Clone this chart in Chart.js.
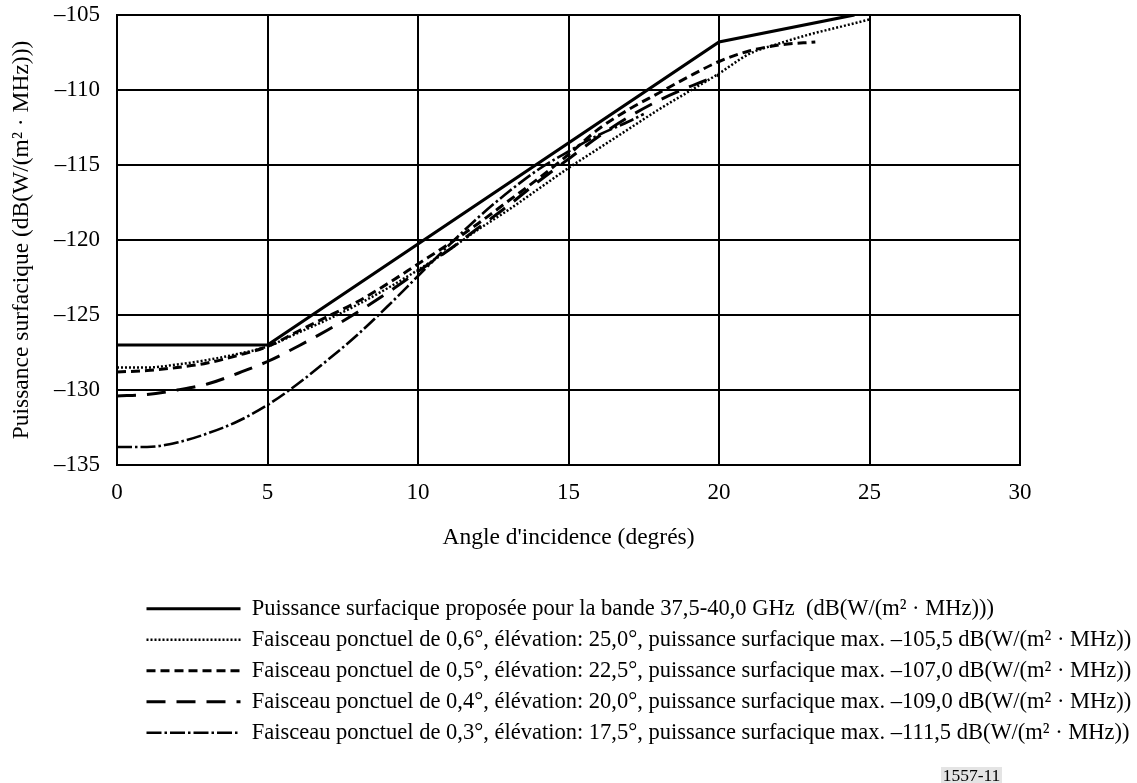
<!DOCTYPE html>
<html>
<head>
<meta charset="utf-8">
<script src="https://cdn.jsdelivr.net/npm/chart.js@4/dist/chart.umd.min.js"></script>
<style>
  html, body { margin: 0; padding: 0; background: #fff; }
  #wrap { width: 1137px; height: 783px; }
</style>
</head>
<body>
<div id="wrap"><canvas id="myChart" width="1137" height="783"></canvas></div>
<script>
// Angle d'incidence (degrés) / puissance surfacique dB(W/(m2 · MHz))
const anglesProposed = [0, 5, 20, 24.5];
const pfdProposed = [-127, -127, -106.8, -105];

const angles06 = [0, 1, 2, 3, 4, 5, 6, 7, 8, 9, 10, 11, 12, 13, 14, 15, 16, 17, 18, 19, 20, 21, 22, 23, 24, 25];
const pfd06 = [-128.5, -128.5, -128.3, -128.0, -127.6, -127.1, -126.2, -125.3, -124.3, -123.2,
  -122.0, -120.7, -119.3, -118.0, -116.6, -115.2, -113.9, -112.6, -111.3, -110.1,
  -108.9, -107.6, -106.9, -106.3, -105.8, -105.3];

const angles05 = [0, 1, 2, 3, 4, 5, 6, 7, 8, 9, 10, 11, 12, 13, 14, 15, 16, 17, 18, 19, 20, 21, 22, 23.2];
const pfd05 = [-128.8, -128.7, -128.5, -128.2, -127.7, -127.1, -126.1, -125.1, -124.1, -122.9,
  -121.6, -120.3, -118.9, -117.4, -115.9, -114.3, -112.6, -111.3, -110.2, -109.1,
  -108.1, -107.4, -107.0, -106.8];

const angles04 = [0, 1, 2, 3, 4, 5, 6, 7, 8, 9, 10, 11, 12, 13, 14, 15, 16, 17, 18, 19, 20];
const pfd04 = [-130.4, -130.3, -130.0, -129.6, -128.9, -128.1, -127.1, -126.0, -124.8, -123.5,
  -122.1, -120.7, -119.2, -117.7, -116.1, -114.6, -113.1, -111.8, -110.7, -109.8, -109.0];

const angles03 = [0, 1, 2, 3, 4, 5, 6, 7, 8, 9, 10, 11, 12, 13, 14, 15, 16, 17, 17.5];
const pfd03 = [-133.8, -133.8, -133.5, -132.9, -132.1, -131.0, -129.6, -128.0, -126.3, -124.4,
  -122.4, -120.4, -118.5, -116.8, -115.3, -114.1, -113.0, -112.1, -111.6];

const seriesLabels = [
  'Puissance surfacique proposée pour la bande 37,5-40,0 GHz  (dB(W/(m² · MHz)))',
  'Faisceau ponctuel de 0,6°, élévation: 25,0°, puissance surfacique max. –105,5 dB(W/(m² · MHz))',
  'Faisceau ponctuel de 0,5°, élévation: 22,5°, puissance surfacique max. –107,0 dB(W/(m² · MHz))',
  'Faisceau ponctuel de 0,4°, élévation: 20,0°, puissance surfacique max. –109,0 dB(W/(m² · MHz))',
  'Faisceau ponctuel de 0,3°, élévation: 17,5°, puissance surfacique max. –111,5 dB(W/(m² · MHz))'
];

const xTicks = [0, 5, 10, 15, 20, 25, 30];
const yTicks = [-135, -130, -125, -120, -115, -110, -105];
const yTickLabels = ['–135', '–130', '–125', '–120', '–115', '–110', '–105'];

const xTitle = "Angle d'incidence (degrés)";
const yTitle = 'Puissance surfacique (dB(W/(m² · MHz)))';
const figNumber = '1557-11';

function pts(xs, ys) {
  return xs.map(function (x, i) { return { x: x, y: ys[i] }; });
}

const FONT = "'Liberation Serif', 'Times New Roman', serif";
Chart.defaults.color = '#000';
Chart.defaults.font.family = FONT;

const data = {
  datasets: [
    {
      label: seriesLabels[0],
      data: pts(anglesProposed, pfdProposed),
      borderColor: '#000',
      borderWidth: 3.2,
      borderDash: [],
      tension: 0
    },
    {
      label: seriesLabels[1],
      data: pts(angles06, pfd06),
      borderColor: '#000',
      borderWidth: 2.5,
      borderDash: [2, 2],
      cubicInterpolationMode: 'monotone'
    },
    {
      label: seriesLabels[2],
      data: pts(angles05, pfd05),
      borderColor: '#000',
      borderWidth: 3,
      borderDash: [9, 5],
      cubicInterpolationMode: 'monotone'
    },
    {
      label: seriesLabels[3],
      data: pts(angles04, pfd04),
      borderColor: '#000',
      borderWidth: 3,
      borderDash: [19, 11],
      cubicInterpolationMode: 'monotone'
    },
    {
      label: seriesLabels[4],
      data: pts(angles03, pfd03),
      borderColor: '#000',
      borderWidth: 2.6,
      borderDash: [15, 3, 2.5, 3],
      cubicInterpolationMode: 'monotone'
    }
  ]
};

// moves the legend so its rows start under the plot like in the figure
const legendShift = {
  id: 'legendShift',
  afterLayout(chart) {
    chart.legend.left += 138;
    chart.legend.right += 138;
  }
};

// figure number in the grey box at the bottom
const figLabel = {
  id: 'figLabel',
  afterDraw(chart) {
    const ctx = chart.ctx;
    ctx.save();
    ctx.fillStyle = '#e4e4e4';
    ctx.fillRect(941, 767, 61, 16);
    ctx.fillStyle = '#000';
    ctx.font = "17.5px " + FONT;
    ctx.textAlign = 'center';
    ctx.textBaseline = 'middle';
    ctx.fillText(figNumber, 971.5, 776);
    ctx.restore();
  }
};

const config = {
  type: 'line',
  data: data,
  plugins: [legendShift, figLabel],
  options: {
    responsive: false,
    animation: false,
    layout: {
      padding: { top: 15, right: 117, bottom: 29, left: 0 }
    },
    elements: {
      point: { radius: 0, hoverRadius: 0 },
      line: { borderCapStyle: 'butt', fill: false }
    },
    scales: {
      x: {
        type: 'linear',
        min: 0,
        max: 30,
        afterBuildTicks: function (axis) {
          axis.ticks = xTicks.map(function (v) { return { value: v }; });
        },
        afterFit: function (axis) {
          axis.height = 124;
          axis.paddingLeft = 0;
          axis.paddingRight = 0;
        },
        grid: { color: '#000', lineWidth: 2, drawTicks: false },
        border: { color: '#000', width: 2 },
        ticks: {
          padding: 14,
          maxRotation: 0,
          font: { size: 23 },
          callback: function (v) { return String(v); }
        },
        title: {
          display: true,
          text: xTitle,
          font: { size: 23.5 },
          padding: { top: 0, bottom: 37 }
        }
      },
      y: {
        type: 'linear',
        min: -135,
        max: -105,
        afterBuildTicks: function (axis) {
          axis.ticks = yTicks.map(function (v) { return { value: v }; });
        },
        afterFit: function (axis) {
          axis.width = 117;
          axis.paddingTop = 0;
          axis.paddingBottom = 0;
        },
        grid: { color: '#000', lineWidth: 2, drawTicks: false },
        border: { color: '#000', width: 2 },
        ticks: {
          padding: 17,
          font: { size: 23 },
          callback: function (v) {
            const i = yTicks.indexOf(v);
            return i >= 0 ? yTickLabels[i] : '';
          }
        },
        title: {
          display: true,
          text: yTitle,
          font: { size: 23.5 },
          padding: { top: 8, bottom: 0 }
        }
      }
    },
    plugins: {
      tooltip: { enabled: false },
      legend: {
        position: 'bottom',
        align: 'start',
        labels: {
          usePointStyle: true,
          pointStyleWidth: 94,
          padding: 8.5,
          font: { size: 22.5 },
          color: '#000',
          generateLabels: function (chart) {
            return chart.data.datasets.map(function (ds, i) {
              return {
                text: ds.label,
                fillStyle: ds.borderColor,
                strokeStyle: ds.borderColor,
                lineWidth: ds.borderWidth,
                lineDash: ds.borderDash,
                lineCap: 'butt',
                pointStyle: 'line',
                fontColor: '#000',
                hidden: false,
                datasetIndex: i
              };
            });
          }
        }
      }
    }
  }
};

var myChart = new Chart(document.getElementById('myChart'), config);
</script>
</body>
</html>
